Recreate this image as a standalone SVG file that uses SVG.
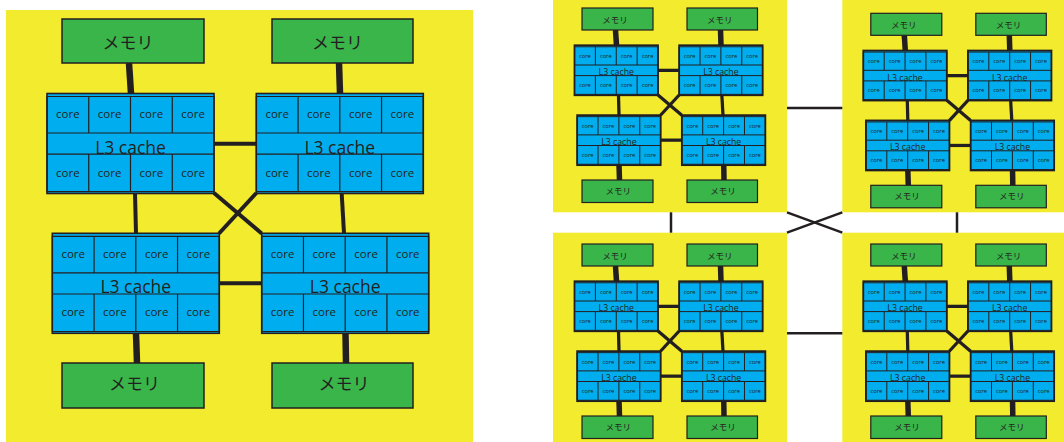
<svg xmlns="http://www.w3.org/2000/svg" xmlns:xlink="http://www.w3.org/1999/xlink" width="1064" height="442" viewBox="0 0 1064 442">
<style>
.bg{fill:#f3ec2e}
.mem{fill:#39b54a;stroke:#231f20;stroke-width:1.5}
.sm .mem{stroke-width:2.4}
.mt{font-family:"Noto Sans CJK JP","Noto Sans",sans-serif;font-size:17px;fill:#231f20;text-anchor:middle}
.c{font-family:"Open Sans","Liberation Sans",sans-serif;font-size:11.5px;fill:#231f20;text-anchor:middle}
.l3{font-family:"Open Sans","Liberation Sans",sans-serif;font-size:17.5px;fill:#231f20;text-anchor:middle}
.co{fill:#00aeef;stroke:#231f20;stroke-width:1.6}
.ce{fill:none;stroke:#231f20;stroke-width:1.2}
.co2{fill:#00aeef;stroke:#231f20;stroke-width:3.6}
.ce2{fill:none;stroke:#231f20;stroke-width:2}
.lk{fill:none;stroke:#231f20}
.lm{stroke-width:6.5}
.lc{stroke-width:4}
.sm .lm{stroke-width:11}
.sm .lc{stroke-width:6.5}
.lp{stroke-width:2.5}
</style>
<defs>
<g id="chipB">
<rect class="co" x="0" y="0" width="167" height="100"/>
<path class="ce" d="M0,3H167V98.2H0Z M0,39.5H167 M0,60.7H167 M41.75,3V39.5 M83.5,3V39.5 M125.25,3V39.5 M41.75,60.7V98.2 M83.5,60.7V98.2 M125.25,60.7V98.2"/>
</g>
<g id="chipS">
<rect class="co2" x="0" y="0" width="167" height="100"/>
<path class="ce2" d="M0,3H167V98.2H0Z M0,39.5H167 M0,60.7H167 M41.75,3V39.5 M83.5,3V39.5 M125.25,3V39.5 M41.75,60.7V98.2 M83.5,60.7V98.2 M125.25,60.7V98.2"/>
</g>
</defs>

<g id="backgrounds">
<rect class="bg" x="6" y="10" width="467" height="432"/>
<rect class="bg" x="553" y="0" width="234" height="212.3"/>
<rect class="bg" x="842.3" y="0" width="221.7" height="212.3"/>
<rect class="bg" x="553" y="232.7" width="234" height="209.3"/>
<rect class="bg" x="842.3" y="232.7" width="221.7" height="209.3"/>
</g>

<g id="connectors">
<g id="panel-links" class="lk lp">
<path d="M787,108H842.3"/>
<path d="M787,333.3H842.3"/>
<path d="M671,212.3V232.7"/>
<path d="M957,212.3V232.7"/>
<path d="M787,212.3L842.3,232.7"/>
<path d="M842.3,212.3L787,232.7"/>
</g>
<g id="big-links" class="lk">
<path class="lm" d="M129,63L131,93.5"/><path class="lm" d="M339,63L340,93.5"/><path class="lm" d="M136,333.3L137,363"/><path class="lm" d="M345.5,333.3L346,363"/>
<path class="lc" d="M214,143.7H256.3"/><path class="lc" d="M219,283.3H261.7"/><path class="lc" d="M135,193.5L136,233.3"/><path class="lc" d="M341.7,193.5L344,233.3"/><path class="lc" d="M214,193L261.7,233.5"/><path class="lc" d="M256.3,193L219,233.5"/>
</g>
<g id="p1-links" class="lk sm" transform="translate(551,-1.5) scale(0.5)">
<path class="lm" d="M129,63L131,93.5"/><path class="lm" d="M339,63L340,93.5"/><path class="lm" d="M136,333.3L137,363"/><path class="lm" d="M345.5,333.3L346,363"/>
<path class="lc" d="M214,143.7H256.3"/><path class="lc" d="M219,283.3H261.7"/><path class="lc" d="M135,193.5L136,233.3"/><path class="lc" d="M341.7,193.5L344,233.3"/><path class="lc" d="M214,193L261.7,233.5"/><path class="lc" d="M256.3,193L219,233.5"/>
</g>
<g id="p2-links" class="lk sm" transform="translate(839.8,3.8) scale(0.5)">
<path class="lm" d="M129,63L131,93.5"/><path class="lm" d="M339,63L340,93.5"/><path class="lm" d="M136,333.3L137,363"/><path class="lm" d="M345.5,333.3L346,363"/>
<path class="lc" d="M214,143.7H256.3"/><path class="lc" d="M219,283.3H261.7"/><path class="lc" d="M135,193.5L136,233.3"/><path class="lc" d="M341.7,193.5L344,233.3"/><path class="lc" d="M214,193L261.7,233.5"/><path class="lc" d="M256.3,193L219,233.5"/>
</g>
<g id="p3-links" class="lk sm" transform="translate(551,234.5) scale(0.5)">
<path class="lm" d="M129,63L131,93.5"/><path class="lm" d="M339,63L340,93.5"/><path class="lm" d="M136,333.3L137,363"/><path class="lm" d="M345.5,333.3L346,363"/>
<path class="lc" d="M214,143.7H256.3"/><path class="lc" d="M219,283.3H261.7"/><path class="lc" d="M135,193.5L136,233.3"/><path class="lc" d="M341.7,193.5L344,233.3"/><path class="lc" d="M214,193L261.7,233.5"/><path class="lc" d="M256.3,193L219,233.5"/>
</g>
<g id="p4-links" class="lk sm" transform="translate(839.8,234.5) scale(0.5)">
<path class="lm" d="M129,63L131,93.5"/><path class="lm" d="M339,63L340,93.5"/><path class="lm" d="M136,333.3L137,363"/><path class="lm" d="M345.5,333.3L346,363"/>
<path class="lc" d="M214,143.7H256.3"/><path class="lc" d="M219,283.3H261.7"/><path class="lc" d="M135,193.5L136,233.3"/><path class="lc" d="M341.7,193.5L344,233.3"/><path class="lc" d="M214,193L261.7,233.5"/><path class="lc" d="M256.3,193L219,233.5"/>
</g>
</g>

<g id="big">
<g id="big-mem-tl"><rect class="mem" x="62" y="19" width="142" height="44"/><text class="mt" x="128" y="49">メモリ</text></g>
<g id="big-mem-tr"><rect class="mem" x="272" y="19" width="141" height="44"/><text class="mt" x="337.5" y="49">メモリ</text></g>
<g id="big-mem-bl"><rect class="mem" x="62" y="363" width="142" height="45"/><text class="mt" x="134.5" y="390">メモリ</text></g>
<g id="big-mem-br"><rect class="mem" x="272" y="363" width="141" height="45"/><text class="mt" x="344" y="390">メモリ</text></g>
<g id="big-chip-tl" transform="translate(47,93.5)"><use href="#chipB" xlink:href="#chipB"/><text class="c" x="20.9" y="24.8">core</text><text class="c" x="62.6" y="24.8">core</text><text class="c" x="104.4" y="24.8">core</text><text class="c" x="146.1" y="24.8">core</text><text class="l3" x="83.5" y="60">L3 cache</text><text class="c" x="20.9" y="83.2">core</text><text class="c" x="62.6" y="83.2">core</text><text class="c" x="104.4" y="83.2">core</text><text class="c" x="146.1" y="83.2">core</text></g>
<g id="big-chip-tr" transform="translate(256.3,93.5)"><use href="#chipB" xlink:href="#chipB"/><text class="c" x="20.9" y="24.8">core</text><text class="c" x="62.6" y="24.8">core</text><text class="c" x="104.4" y="24.8">core</text><text class="c" x="146.1" y="24.8">core</text><text class="l3" x="83.5" y="60">L3 cache</text><text class="c" x="20.9" y="83.2">core</text><text class="c" x="62.6" y="83.2">core</text><text class="c" x="104.4" y="83.2">core</text><text class="c" x="146.1" y="83.2">core</text></g>
<g id="big-chip-bl" transform="translate(52.3,233.3)"><use href="#chipB" xlink:href="#chipB"/><text class="c" x="20.9" y="24.8">core</text><text class="c" x="62.6" y="24.8">core</text><text class="c" x="104.4" y="24.8">core</text><text class="c" x="146.1" y="24.8">core</text><text class="l3" x="83.5" y="60">L3 cache</text><text class="c" x="20.9" y="83.2">core</text><text class="c" x="62.6" y="83.2">core</text><text class="c" x="104.4" y="83.2">core</text><text class="c" x="146.1" y="83.2">core</text></g>
<g id="big-chip-br" transform="translate(261.7,233.3)"><use href="#chipB" xlink:href="#chipB"/><text class="c" x="20.9" y="24.8">core</text><text class="c" x="62.6" y="24.8">core</text><text class="c" x="104.4" y="24.8">core</text><text class="c" x="146.1" y="24.8">core</text><text class="l3" x="83.5" y="60">L3 cache</text><text class="c" x="20.9" y="83.2">core</text><text class="c" x="62.6" y="83.2">core</text><text class="c" x="104.4" y="83.2">core</text><text class="c" x="146.1" y="83.2">core</text></g>
</g>

<g id="p1" class="sm" transform="translate(551,-1.5) scale(0.5)">
<g id="p1-mem-tl"><rect class="mem" x="62" y="19" width="142" height="44"/><text class="mt" x="128" y="49">メモリ</text></g>
<g id="p1-mem-tr"><rect class="mem" x="272" y="19" width="141" height="44"/><text class="mt" x="337.5" y="49">メモリ</text></g>
<g id="p1-mem-bl"><rect class="mem" x="62" y="363" width="142" height="45"/><text class="mt" x="134.5" y="390">メモリ</text></g>
<g id="p1-mem-br"><rect class="mem" x="272" y="363" width="141" height="45"/><text class="mt" x="344" y="390">メモリ</text></g>
<g id="p1-chip-tl" transform="translate(47,93.5)"><use href="#chipS" xlink:href="#chipS"/><text class="c" x="20.9" y="24.8">core</text><text class="c" x="62.6" y="24.8">core</text><text class="c" x="104.4" y="24.8">core</text><text class="c" x="146.1" y="24.8">core</text><text class="l3" x="83.5" y="60">L3 cache</text><text class="c" x="20.9" y="83.2">core</text><text class="c" x="62.6" y="83.2">core</text><text class="c" x="104.4" y="83.2">core</text><text class="c" x="146.1" y="83.2">core</text></g>
<g id="p1-chip-tr" transform="translate(256.3,93.5)"><use href="#chipS" xlink:href="#chipS"/><text class="c" x="20.9" y="24.8">core</text><text class="c" x="62.6" y="24.8">core</text><text class="c" x="104.4" y="24.8">core</text><text class="c" x="146.1" y="24.8">core</text><text class="l3" x="83.5" y="60">L3 cache</text><text class="c" x="20.9" y="83.2">core</text><text class="c" x="62.6" y="83.2">core</text><text class="c" x="104.4" y="83.2">core</text><text class="c" x="146.1" y="83.2">core</text></g>
<g id="p1-chip-bl" transform="translate(52.3,233.3)"><use href="#chipS" xlink:href="#chipS"/><text class="c" x="20.9" y="24.8">core</text><text class="c" x="62.6" y="24.8">core</text><text class="c" x="104.4" y="24.8">core</text><text class="c" x="146.1" y="24.8">core</text><text class="l3" x="83.5" y="60">L3 cache</text><text class="c" x="20.9" y="83.2">core</text><text class="c" x="62.6" y="83.2">core</text><text class="c" x="104.4" y="83.2">core</text><text class="c" x="146.1" y="83.2">core</text></g>
<g id="p1-chip-br" transform="translate(261.7,233.3)"><use href="#chipS" xlink:href="#chipS"/><text class="c" x="20.9" y="24.8">core</text><text class="c" x="62.6" y="24.8">core</text><text class="c" x="104.4" y="24.8">core</text><text class="c" x="146.1" y="24.8">core</text><text class="l3" x="83.5" y="60">L3 cache</text><text class="c" x="20.9" y="83.2">core</text><text class="c" x="62.6" y="83.2">core</text><text class="c" x="104.4" y="83.2">core</text><text class="c" x="146.1" y="83.2">core</text></g>
</g>

<g id="p2" class="sm" transform="translate(839.8,3.8) scale(0.5)">
<g id="p2-mem-tl"><rect class="mem" x="62" y="19" width="142" height="44"/><text class="mt" x="128" y="49">メモリ</text></g>
<g id="p2-mem-tr"><rect class="mem" x="272" y="19" width="141" height="44"/><text class="mt" x="337.5" y="49">メモリ</text></g>
<g id="p2-mem-bl"><rect class="mem" x="62" y="363" width="142" height="45"/><text class="mt" x="134.5" y="390">メモリ</text></g>
<g id="p2-mem-br"><rect class="mem" x="272" y="363" width="141" height="45"/><text class="mt" x="344" y="390">メモリ</text></g>
<g id="p2-chip-tl" transform="translate(47,93.5)"><use href="#chipS" xlink:href="#chipS"/><text class="c" x="20.9" y="24.8">core</text><text class="c" x="62.6" y="24.8">core</text><text class="c" x="104.4" y="24.8">core</text><text class="c" x="146.1" y="24.8">core</text><text class="l3" x="83.5" y="60">L3 cache</text><text class="c" x="20.9" y="83.2">core</text><text class="c" x="62.6" y="83.2">core</text><text class="c" x="104.4" y="83.2">core</text><text class="c" x="146.1" y="83.2">core</text></g>
<g id="p2-chip-tr" transform="translate(256.3,93.5)"><use href="#chipS" xlink:href="#chipS"/><text class="c" x="20.9" y="24.8">core</text><text class="c" x="62.6" y="24.8">core</text><text class="c" x="104.4" y="24.8">core</text><text class="c" x="146.1" y="24.8">core</text><text class="l3" x="83.5" y="60">L3 cache</text><text class="c" x="20.9" y="83.2">core</text><text class="c" x="62.6" y="83.2">core</text><text class="c" x="104.4" y="83.2">core</text><text class="c" x="146.1" y="83.2">core</text></g>
<g id="p2-chip-bl" transform="translate(52.3,233.3)"><use href="#chipS" xlink:href="#chipS"/><text class="c" x="20.9" y="24.8">core</text><text class="c" x="62.6" y="24.8">core</text><text class="c" x="104.4" y="24.8">core</text><text class="c" x="146.1" y="24.8">core</text><text class="l3" x="83.5" y="60">L3 cache</text><text class="c" x="20.9" y="83.2">core</text><text class="c" x="62.6" y="83.2">core</text><text class="c" x="104.4" y="83.2">core</text><text class="c" x="146.1" y="83.2">core</text></g>
<g id="p2-chip-br" transform="translate(261.7,233.3)"><use href="#chipS" xlink:href="#chipS"/><text class="c" x="20.9" y="24.8">core</text><text class="c" x="62.6" y="24.8">core</text><text class="c" x="104.4" y="24.8">core</text><text class="c" x="146.1" y="24.8">core</text><text class="l3" x="83.5" y="60">L3 cache</text><text class="c" x="20.9" y="83.2">core</text><text class="c" x="62.6" y="83.2">core</text><text class="c" x="104.4" y="83.2">core</text><text class="c" x="146.1" y="83.2">core</text></g>
</g>

<g id="p3" class="sm" transform="translate(551,234.5) scale(0.5)">
<g id="p3-mem-tl"><rect class="mem" x="62" y="19" width="142" height="44"/><text class="mt" x="128" y="49">メモリ</text></g>
<g id="p3-mem-tr"><rect class="mem" x="272" y="19" width="141" height="44"/><text class="mt" x="337.5" y="49">メモリ</text></g>
<g id="p3-mem-bl"><rect class="mem" x="62" y="363" width="142" height="45"/><text class="mt" x="134.5" y="390">メモリ</text></g>
<g id="p3-mem-br"><rect class="mem" x="272" y="363" width="141" height="45"/><text class="mt" x="344" y="390">メモリ</text></g>
<g id="p3-chip-tl" transform="translate(47,93.5)"><use href="#chipS" xlink:href="#chipS"/><text class="c" x="20.9" y="24.8">core</text><text class="c" x="62.6" y="24.8">core</text><text class="c" x="104.4" y="24.8">core</text><text class="c" x="146.1" y="24.8">core</text><text class="l3" x="83.5" y="60">L3 cache</text><text class="c" x="20.9" y="83.2">core</text><text class="c" x="62.6" y="83.2">core</text><text class="c" x="104.4" y="83.2">core</text><text class="c" x="146.1" y="83.2">core</text></g>
<g id="p3-chip-tr" transform="translate(256.3,93.5)"><use href="#chipS" xlink:href="#chipS"/><text class="c" x="20.9" y="24.8">core</text><text class="c" x="62.6" y="24.8">core</text><text class="c" x="104.4" y="24.8">core</text><text class="c" x="146.1" y="24.8">core</text><text class="l3" x="83.5" y="60">L3 cache</text><text class="c" x="20.9" y="83.2">core</text><text class="c" x="62.6" y="83.2">core</text><text class="c" x="104.4" y="83.2">core</text><text class="c" x="146.1" y="83.2">core</text></g>
<g id="p3-chip-bl" transform="translate(52.3,233.3)"><use href="#chipS" xlink:href="#chipS"/><text class="c" x="20.9" y="24.8">core</text><text class="c" x="62.6" y="24.8">core</text><text class="c" x="104.4" y="24.8">core</text><text class="c" x="146.1" y="24.8">core</text><text class="l3" x="83.5" y="60">L3 cache</text><text class="c" x="20.9" y="83.2">core</text><text class="c" x="62.6" y="83.2">core</text><text class="c" x="104.4" y="83.2">core</text><text class="c" x="146.1" y="83.2">core</text></g>
<g id="p3-chip-br" transform="translate(261.7,233.3)"><use href="#chipS" xlink:href="#chipS"/><text class="c" x="20.9" y="24.8">core</text><text class="c" x="62.6" y="24.8">core</text><text class="c" x="104.4" y="24.8">core</text><text class="c" x="146.1" y="24.8">core</text><text class="l3" x="83.5" y="60">L3 cache</text><text class="c" x="20.9" y="83.2">core</text><text class="c" x="62.6" y="83.2">core</text><text class="c" x="104.4" y="83.2">core</text><text class="c" x="146.1" y="83.2">core</text></g>
</g>

<g id="p4" class="sm" transform="translate(839.8,234.5) scale(0.5)">
<g id="p4-mem-tl"><rect class="mem" x="62" y="19" width="142" height="44"/><text class="mt" x="128" y="49">メモリ</text></g>
<g id="p4-mem-tr"><rect class="mem" x="272" y="19" width="141" height="44"/><text class="mt" x="337.5" y="49">メモリ</text></g>
<g id="p4-mem-bl"><rect class="mem" x="62" y="363" width="142" height="45"/><text class="mt" x="134.5" y="390">メモリ</text></g>
<g id="p4-mem-br"><rect class="mem" x="272" y="363" width="141" height="45"/><text class="mt" x="344" y="390">メモリ</text></g>
<g id="p4-chip-tl" transform="translate(47,93.5)"><use href="#chipS" xlink:href="#chipS"/><text class="c" x="20.9" y="24.8">core</text><text class="c" x="62.6" y="24.8">core</text><text class="c" x="104.4" y="24.8">core</text><text class="c" x="146.1" y="24.8">core</text><text class="l3" x="83.5" y="60">L3 cache</text><text class="c" x="20.9" y="83.2">core</text><text class="c" x="62.6" y="83.2">core</text><text class="c" x="104.4" y="83.2">core</text><text class="c" x="146.1" y="83.2">core</text></g>
<g id="p4-chip-tr" transform="translate(256.3,93.5)"><use href="#chipS" xlink:href="#chipS"/><text class="c" x="20.9" y="24.8">core</text><text class="c" x="62.6" y="24.8">core</text><text class="c" x="104.4" y="24.8">core</text><text class="c" x="146.1" y="24.8">core</text><text class="l3" x="83.5" y="60">L3 cache</text><text class="c" x="20.9" y="83.2">core</text><text class="c" x="62.6" y="83.2">core</text><text class="c" x="104.4" y="83.2">core</text><text class="c" x="146.1" y="83.2">core</text></g>
<g id="p4-chip-bl" transform="translate(52.3,233.3)"><use href="#chipS" xlink:href="#chipS"/><text class="c" x="20.9" y="24.8">core</text><text class="c" x="62.6" y="24.8">core</text><text class="c" x="104.4" y="24.8">core</text><text class="c" x="146.1" y="24.8">core</text><text class="l3" x="83.5" y="60">L3 cache</text><text class="c" x="20.9" y="83.2">core</text><text class="c" x="62.6" y="83.2">core</text><text class="c" x="104.4" y="83.2">core</text><text class="c" x="146.1" y="83.2">core</text></g>
<g id="p4-chip-br" transform="translate(261.7,233.3)"><use href="#chipS" xlink:href="#chipS"/><text class="c" x="20.9" y="24.8">core</text><text class="c" x="62.6" y="24.8">core</text><text class="c" x="104.4" y="24.8">core</text><text class="c" x="146.1" y="24.8">core</text><text class="l3" x="83.5" y="60">L3 cache</text><text class="c" x="20.9" y="83.2">core</text><text class="c" x="62.6" y="83.2">core</text><text class="c" x="104.4" y="83.2">core</text><text class="c" x="146.1" y="83.2">core</text></g>
</g>
</svg>
